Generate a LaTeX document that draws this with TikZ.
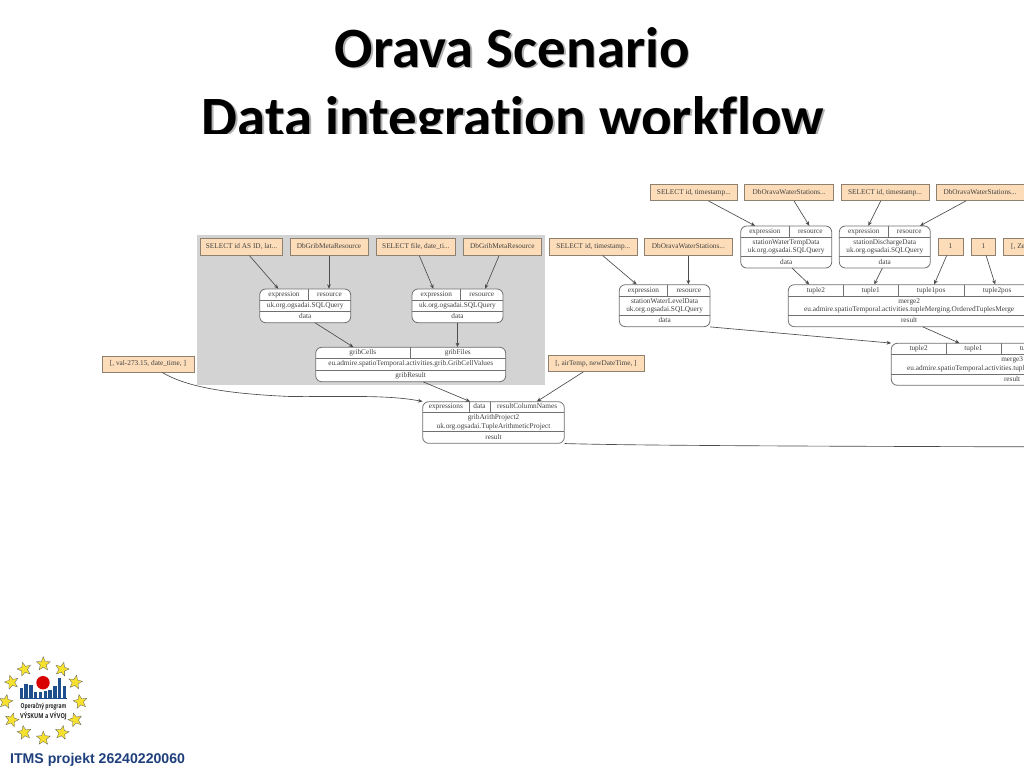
\documentclass[tikz,border=0pt]{standalone}
\usepackage{fontspec}
\setmainfont{Liberation Serif}
\newfontfamily\titlefont[Ligatures=NoCommon]{Carlito}
\newfontfamily\itmsfont{Liberation Sans}
\newfontfamily\logofont{Open Sans}
\definecolor{peach}{HTML}{FDDDB9}
\definecolor{peachline}{HTML}{8F8170}
\definecolor{recline}{HTML}{707070}
\definecolor{difftext}{HTML}{404040}
\definecolor{graybg}{HTML}{D3D3D3}
\definecolor{logoblue}{HTML}{1F4E8C}
\definecolor{itmsblue}{HTML}{1F3F7C}
\definecolor{staryellow}{HTML}{F7E12F}
\usetikzlibrary{arrows.meta,shapes.geometric}
\tikzset{
  x=1pt,y=-1pt,
  dtext/.style={font=\fontsize{7.3}{8.2}\selectfont,text=difftext,inner sep=0pt,align=center},
  celltext/.style={dtext,text height=4.8pt,text depth=1.5pt},
  flow/.style={draw=black!70,line width=0.65pt,-{Stealth[length=4.5pt,width=3.8pt]}},
  recframe/.style={draw=recline,line width=0.8pt,fill=white,rounded corners=6pt},
  recrule/.style={draw=recline,line width=0.7pt},
  titletext/.style={font=\titlefont\bfseries\fontsize{57}{60}\selectfont,inner sep=0pt,anchor=base},
  eustar/.style={shape=star,star points=5,star point ratio=2.3,fill=staryellow,draw=black!65,line width=0.3pt,inner sep=0pt,minimum size=14.5pt},
}
% literal box: name, x1, y1, x2, y2, text
\newcommand\litbox[6]{\path[draw=peachline,line width=0.95pt,fill=peach] (#2,#3) rectangle (#4,#5);
  \node[celltext,minimum width={#4pt-#2pt},minimum height={#5pt-#3pt}] (#1) at ({(#2+#4)/2},{(#3+#5)/2}) {#6};}
% record: name, x1, x2, ytop, yrow1, yrow2, ybot, middle text, bottom text
\newcommand\recbox[9]{\path[recframe] (#2,#4) rectangle (#3,#7);
  \draw[recrule] (#2,#5) -- (#3,#5) (#2,#6) -- (#3,#6);
  \node[dtext] (#1m) at ({(#2+#3)/2},{(#5+#6)/2}) {#8};
  \node[celltext,minimum width={#3pt-#2pt},minimum height={#7pt-#6pt}] (#1d) at ({(#2+#3)/2},{(#6+#7)/2}) {#9};}
% port cell: name, x1, x2, ytop, yrow1, text
\newcommand\portcell[6]{\node[celltext,minimum width={#3pt-#2pt},minimum height={#5pt-#4pt}] (#1) at ({(#2+#3)/2},{(#4+#5)/2}) {#6};}
\newcommand\portdiv[3]{\draw[recrule] (#1,#2) -- (#1,#3);}
\begin{document}
\begin{tikzpicture}
\useasboundingbox (0,0) rectangle (1024,768);
\clip (0,0) rectangle (1024,768);
\fill[white] (0,0) rectangle (1024,768);

% title (second line cut off by the slide's clipping)
\begin{scope}
\clip (0,0) rectangle (1024,133.5);
\node[titletext,text=black!30] at (514,68.5) {Orava Scenario};
\node[titletext,text=black!30] at (514.5,137.5) {Data integration workflow};
\node[titletext] (title1) at (512.5,67) {Orava Scenario};
\node[titletext] (title2) at (513,136) {Data integration workflow};
\end{scope}

% cluster
\fill[graybg] (197,235) rectangle (545,385);

% literals
\litbox{a1}{200.5}{238.5}{282.5}{255.5}{SELECT id AS ID, lat...}
\litbox{a2}{290}{238.5}{368}{255.5}{DbGribMetaResource}
\litbox{a3}{376}{238.5}{455.7}{255.5}{SELECT file, date\_ti...}
\litbox{a4}{463}{238.5}{541.7}{255.5}{DbGribMetaResource}
\litbox{val}{102}{356}{194}{372.3}{[, val-273.15, date\_time, ]}
\litbox{air}{548}{355.3}{644}{371.7}{[, airTemp, newDateTime, ]}
\litbox{b1}{549.3}{238.7}{637.3}{255.3}{SELECT id, timestamp...}
\litbox{b2}{644}{238.7}{732.7}{255.3}{DbOravaWaterStations...}
\litbox{c1}{650}{184}{737.7}{200.7}{SELECT id, timestamp...}
\litbox{c2}{744.7}{184}{833.7}{200.7}{DbOravaWaterStations...}
\litbox{c3}{841}{184}{929}{200.7}{SELECT id, timestamp...}
\litbox{c4}{936}{184}{1024}{200.7}{DbOravaWaterStations...}
\litbox{one1}{938}{238.7}{963}{255.3}{1}
\litbox{one2}{971}{238.7}{995.7}{255.3}{1}
\litbox{zz}{1003.3}{238.7}{1045}{255.3}{[, Zero, ]}

% records
\recbox{q1}{259.7}{350.7}{289}{300}{311.3}{322.7}{uk.org.ogsadai.SQLQuery}{data}
\portcell{q1e}{259.7}{308.3}{289}{300}{expression}
\portcell{q1r}{308.3}{350.7}{289}{300}{resource}
\portdiv{308.3}{289}{300}

\recbox{q2}{412}{503}{289}{300}{311.3}{322.7}{uk.org.ogsadai.SQLQuery}{data}
\portcell{q2e}{412}{460.7}{289}{300}{expression}
\portcell{q2r}{460.7}{503}{289}{300}{resource}
\portdiv{460.7}{289}{300}

\recbox{gc}{315.7}{505.7}{347.3}{358.3}{370}{381.7}{eu.admire.spatioTemporal.activities.grib.GribCellValues}{gribResult}
\portcell{gcc}{315.7}{410}{347.3}{358.3}{gribCells}
\portcell{gcf}{410}{505.7}{347.3}{358.3}{gribFiles}
\portdiv{410}{347.3}{358.3}

\recbox{pr}{422.7}{564.3}{401.7}{412.7}{431.7}{443.3}{gribArithProject2\\uk.org.ogsadai.TupleArithmeticProject}{result}
\portcell{pre}{422.7}{469}{401.7}{412.7}{expressions}
\portcell{prc}{469}{490}{401.7}{412.7}{data}
\portcell{prn}{490}{564.3}{401.7}{412.7}{resultColumnNames}
\portdiv{469}{401.7}{412.7}
\portdiv{490}{401.7}{412.7}

\recbox{wl}{619.3}{710}{284.7}{296}{315.3}{326.7}{stationWaterLevelData\\uk.org.ogsadai.SQLQuery}{data}
\portcell{wle}{619.3}{667.7}{284.7}{296}{expression}
\portcell{wlr}{667.7}{710}{284.7}{296}{resource}
\portdiv{667.7}{284.7}{296}

\recbox{wt}{740.7}{831.7}{226}{237.3}{256.7}{268}{stationWaterTempData\\uk.org.ogsadai.SQLQuery}{data}
\portcell{wte}{740.7}{789}{226}{237.3}{expression}
\portcell{wtr}{789}{831.7}{226}{237.3}{resource}
\portdiv{789}{226}{237.3}

\recbox{dd}{839.3}{930.3}{226}{237.3}{256.7}{268}{stationDischargeData\\uk.org.ogsadai.SQLQuery}{data}
\portcell{dde}{839.3}{888.3}{226}{237.3}{expression}
\portcell{ddr}{888.3}{930.3}{226}{237.3}{resource}
\portdiv{888.3}{226}{237.3}

\recbox{mb}{788.3}{1030}{284.7}{296}{315.3}{326.7}{merge2\\eu.admire.spatioTemporal.activities.tupleMerging.OrderedTuplesMerge}{result}
\portcell{mbt2}{788.3}{843.3}{284.7}{296}{tuple2}
\portcell{mbt1}{843.3}{898}{284.7}{296}{tuple1}
\portcell{mbp1}{898}{964.3}{284.7}{296}{tuple1pos}
\portcell{mbp2}{964.3}{1030}{284.7}{296}{tuple2pos}
\portdiv{843.3}{284.7}{296}
\portdiv{898}{284.7}{296}
\portdiv{964.3}{284.7}{296}

\recbox{mc}{891.3}{1133}{343.3}{354.7}{374}{385.3}{merge3\\eu.admire.spatioTemporal.activities.tupleMerging.OrderedTuplesMerge}{result}
\portcell{mct2}{891.3}{946}{343.3}{354.7}{tuple2}
\portcell{mct1}{946}{1001}{343.3}{354.7}{tuple1}
\portcell{mcp1}{1001}{1067}{343.3}{354.7}{tuple1pos}
\portdiv{946}{343.3}{354.7}
\portdiv{1001}{343.3}{354.7}

\coordinate (exit) at (1024,446.8);

% connectors
\draw[flow] ([xshift=8pt]a1.south) -- ([xshift=-5.7pt]q1e.north);
\draw[flow] (a2.south) -- (a2.south |- q1r.north);
\draw[flow] ([xshift=3.5pt]a3.south) -- ([xshift=-3pt]q2e.north);
\draw[flow] ([xshift=-3.3pt]a4.south) -- ([xshift=3.2pt]q2r.north);
\draw[flow] ([xshift=10pt]q1d.south) -- ([xshift=-9.5pt]gcc.north);
\draw[flow] (q2d.south) -- (q2d.south |- gcf.north);
\draw[flow] ([xshift=12.6pt]gcd.south) -- ([xshift=-9.5pt]prc.north);
\draw[flow] ([xshift=-12.7pt]air.south) -- ([xshift=9.7pt]prn.north);
\draw[flow] ([xshift=14.3pt]val.south) .. controls +(22,13) and +(-70,-3) .. (290,396.5) .. controls +(50,0.5) and +(-35,-7) .. (pre.north west);
\draw[flow] ([xshift=9.3pt]b1.south) -- ([xshift=-6.8pt]wle.north);
\draw[flow] (b2.south) -- (b2.south |- wlr.north);
\draw[flow] ([xshift=14.5pt]c1.south) -- ([xshift=-9.8pt]wte.north);
\draw[flow] ([xshift=4.8pt]c2.south) -- ([xshift=-1pt]wtr.north);
\draw[flow] ([xshift=-4.3pt]c3.south) -- ([xshift=4.5pt]dde.north);
\draw[flow] ([xshift=-14pt]c4.south) -- ([xshift=10.7pt]ddr.north);
\draw[flow] ([xshift=6pt]wtd.south) -- ([xshift=-6.5pt]mbt2.north);
\draw[flow] ([xshift=-2.5pt]ddd.south) -- ([xshift=3.6pt]mbt1.north);
\draw[flow] ([xshift=-3.8pt]one1.south) -- ([xshift=3pt]mbp1.north);
\draw[flow] ([xshift=2.7pt]one2.south) -- ([xshift=-2pt]mbp2.north);
\draw[flow] (wld.south east) -- (mct2.north west);
\draw[flow] ([xshift=13.7pt]mbd.south) -- ([xshift=-14pt]mct1.north);
\draw[draw=black!70,line width=0.65pt] (prd.south east) .. controls +(60,2) and +(-200,-0.5) .. (exit);

% logo
\foreach \sx/\sy/\ang in {43.3/664/0,24.3/669.3/15,62/669.3/-15,11.7/682.3/15,75.3/682.3/-10,5.7/701.7/-10,80.3/701.7/10,11.7/720/-15,75.3/720/15,24.3/732.7/10,62/732.7/-10,43.3/738.3/0}
  \node[eustar,rotate=\ang] at (\sx,\sy) {};
\fill[logoblue] (19.5,697.5) rectangle (67,698.7);
\foreach \bx/\bh in {19.6/10,24.4/14,29.2/13,34/6,38.8/6,43.6/7,48.4/8,53.2/12,58/20,62.8/12}
  \fill[logoblue] (\bx,698) rectangle (\bx+3.4,698-\bh);
\fill[red!85!black] (43,682.7) circle (6.7);
\node[inner sep=0pt,font=\logofont\bfseries\fontsize{6.8}{7}\selectfont,text=black!85] (logo1) at (43.5,707) {\scalebox{0.72}[1]{Operačný program}};
\node[inner sep=0pt,font=\logofont\bfseries\fontsize{6.8}{7}\selectfont,text=black!85] (logo2) at (43.5,716.5) {\scalebox{0.82}[1]{VÝSKUM a VÝVOJ}};
\node[inner sep=0pt,anchor=base west,font=\itmsfont\bfseries\fontsize{14.1}{16}\selectfont,text=itmsblue] (itms) at (10,763) {ITMS projekt 26240220060};
\end{tikzpicture}
\end{document}
